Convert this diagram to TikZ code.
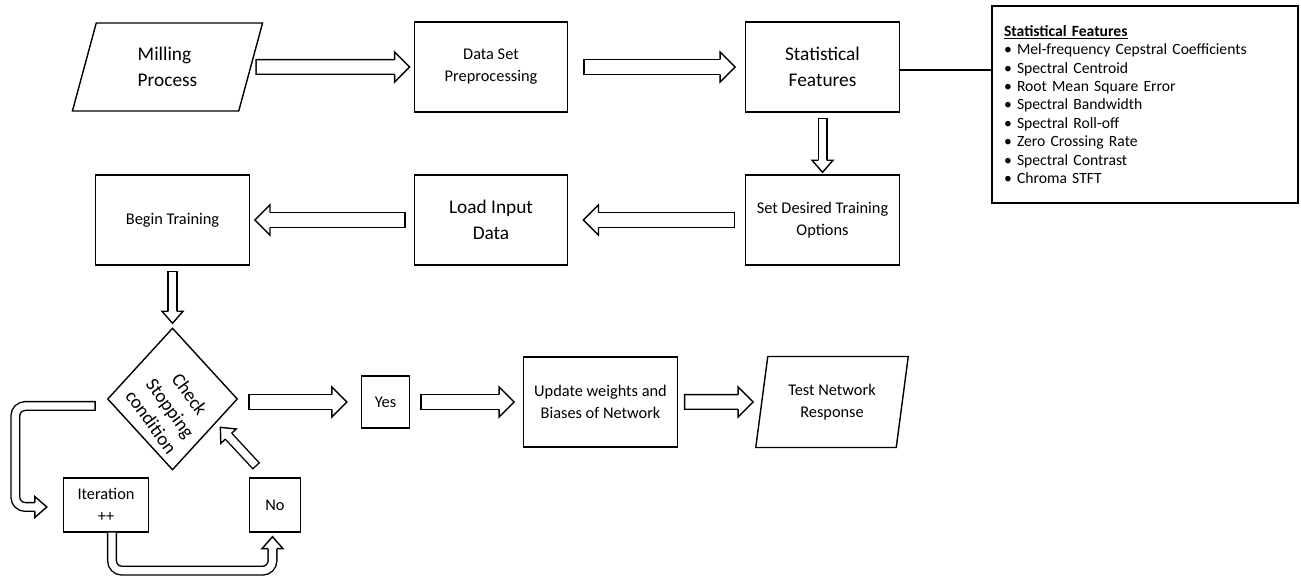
\documentclass[tikz,border=0pt]{standalone}
\usepackage{fontspec}
\setmainfont{Carlito}
\usepackage{tikz}
\usetikzlibrary{shapes.geometric, calc}

\newcommand{\flowbig}{\fontsize{11}{15}\selectfont}
\newcommand{\flowmid}{\fontsize{9.3}{12.5}\selectfont}
\newcommand{\flowlist}{\fontsize{8.9}{10.5}\selectfont}

\tikzstyle{io} = [trapezium, trapezium left angle=77, trapezium right angle=103, trapezium stretches=true, minimum width=3.82cm, minimum height=1.76cm, draw=black, align=left, font=\flowbig]
\tikzstyle{process} = [rectangle, minimum width=3.07cm, minimum height=1.8cm, draw=black, align=center, font=\flowmid]
\tikzstyle{smallbox} = [rectangle, minimum width=1.02cm, minimum height=1.08cm, draw=black, align=center, font=\flowmid]
\tikzstyle{decision} = [diamond, draw=black, minimum width=2.6cm, minimum height=2.84cm, inner sep=0pt]
\tikzstyle{featbox} = [rectangle, draw=black, text width=5.64cm, inner sep=0.24cm, minimum height=3.94cm, align=left, font=\flowlist]
\tikzstyle{bigshaft} = [draw=black, double=white, double distance=0.264cm, line cap=rect]
\tikzstyle{smallshaft} = [draw=black, double=white, double distance=0.144cm, line cap=rect]

% head of a hollow arrow: shaft half, head half, head length, from, tip
\newcommand{\ahead}[5]{%
  \coordinate (ah-t) at (#5);
  \coordinate (ah-b) at ($(ah-t)!#3!(#4)$);
  \filldraw[fill=white] ($(ah-b)!#1!-90:(ah-t)$) -- ($(ah-b)!#2!-90:(ah-t)$) -- (ah-t) -- ($(ah-b)!#2!90:(ah-t)$) -- ($(ah-b)!#1!90:(ah-t)$);}
\newcommand{\smallhead}[2]{\ahead{0.086cm}{0.21cm}{0.24cm}{#1}{#2}}
\newcommand{\bigarrow}[2]{%
  \coordinate (ba-s) at (#1);
  \coordinate (ba-t) at (#2);
  \draw[bigshaft] ($(ba-s)!0.16cm!(ba-t)$) -- ($(ba-t)!0.42cm!(ba-s)$);
  \ahead{0.146cm}{0.30cm}{0.3cm}{ba-s}{ba-t}}
\newcommand{\smallarrow}[2]{%
  \coordinate (ba-s) at (#1);
  \coordinate (ba-t) at (#2);
  \draw[smallshaft] ($(ba-s)!0.1cm!(ba-t)$) -- ($(ba-t)!0.3cm!(ba-s)$);
  \smallhead{ba-s}{ba-t}}

\begin{document}
\begin{tikzpicture}[node distance=3cm, line width=0.8pt]
\useasboundingbox (0,0) rectangle (26.02,11.56);

%% I/O, process, decision boxes
\node (mill)  [io] at (3.35,10.22) {Milling\\Process};
\node (prep)  [process, right of=mill, xshift=3.47cm] {Data Set\\Preprocessing};
\node (stat)  [process, font=\flowbig, right of=prep, xshift=3.63cm] {Statistical\\Features};
\node (feat)  [featbox, right of=stat, xshift=3.45cm, yshift=-0.75cm] {\underline{\textbf{Statistical Features}}\\
  \textbullet\ Mel-frequency Cepstral Coefficients\\
  \textbullet\ Spectral Centroid\\
  \textbullet\ Root Mean Square Error\\
  \textbullet\ Spectral Bandwidth\\
  \textbullet\ Spectral Roll-off\\
  \textbullet\ Zero Crossing Rate\\
  \textbullet\ Spectral Contrast\\
  \textbullet\ Chroma STFT};
\node (opts)  [process, below of=stat, yshift=-0.06cm] {Set Desired Training\\Options};
\node (load)  [process, font=\flowbig, below of=prep, yshift=-0.06cm] {Load Input\\Data};
\node (begin) [process, below of=mill, xshift=0.1cm, yshift=-0.06cm] {Begin Training};
\node (check) [decision, below of=begin, yshift=-0.58cm,
  label={[xshift=-0.04cm, yshift=-0.18cm, rotate=-54, align=center, font=\fontsize{10.8}{13.5}\selectfont]center:Check\\Stopping\\condition}] {};
\node (yes)   [smallbox, minimum width=0.96cm, minimum height=1.04cm, right of=check, xshift=1.26cm, yshift=-0.06cm] {Yes};
\node (upd)   [process, right of=yes, xshift=1.3cm] {Update weights and\\Biases of Network};
\node (test)  [io, trapezium left angle=79, trapezium right angle=101, minimum width=3.06cm, minimum height=1.82cm, align=center, font=\flowmid, right of=upd, xshift=1.63cm] {Test Network\\Response};
\node (iter)  [smallbox, minimum width=1.7cm, below of=check, xshift=-1.33cm, yshift=0.88cm] {Iteration\\++};
\node (no)    [smallbox, right of=iter, xshift=0.38cm] {No};

%% Draw the connectivity.
\bigarrow{[xshift=0.08cm]mill.east}{[xshift=-0.08cm]prep.west}
\bigarrow{[xshift=0.3cm]prep.east}{[xshift=-0.2cm]stat.west}
\draw ([yshift=-0.06cm]stat.east) -- ([yshift=-0.06cm]stat.east -| feat.west);
\smallarrow{[yshift=-0.1cm]stat.south}{[yshift=0.04cm]opts.north}
\bigarrow{[xshift=-0.2cm]opts.west}{[xshift=0.3cm]load.east}
\bigarrow{[xshift=-0.16cm]load.west}{[xshift=0.1cm]begin.east}
\smallarrow{[yshift=-0.1cm]begin.south}{[yshift=0.08cm]check.north}
\bigarrow{[xshift=0.2cm, yshift=-0.06cm]check.east}{[xshift=-0.28cm]yes.west}
\bigarrow{[xshift=0.2cm]yes.east}{[xshift=-0.18cm]upd.west}
\bigarrow{[xshift=0.12cm]upd.east}{[xshift=-0.16cm]test.west}
\smallarrow{[xshift=-0.37cm, yshift=0.22cm]no.north}{[xshift=0.3cm, yshift=0.15cm]check.south east}

% loop: check -> iteration -> no
\draw[smallshaft, rounded corners=0.2cm] ([xshift=-0.32cm, yshift=-0.14cm]check.west) -| ([xshift=-0.95cm, yshift=-0.04cm]iter.west) -- ([xshift=-0.62cm, yshift=-0.04cm]iter.west);
\smallhead{[xshift=-0.95cm, yshift=-0.04cm]iter.west}{[xshift=-0.32cm, yshift=-0.04cm]iter.west}
\draw[smallshaft, line cap=butt, rounded corners=0.2cm] ([xshift=0.12cm]iter.south) |- ([xshift=-0.05cm, yshift=-0.76cm]no.south) -- ([xshift=-0.05cm, yshift=-0.32cm]no.south);
\smallhead{[xshift=-0.05cm, yshift=-0.76cm]no.south}{[xshift=-0.05cm, yshift=-0.08cm]no.south}
\end{tikzpicture}
\end{document}
